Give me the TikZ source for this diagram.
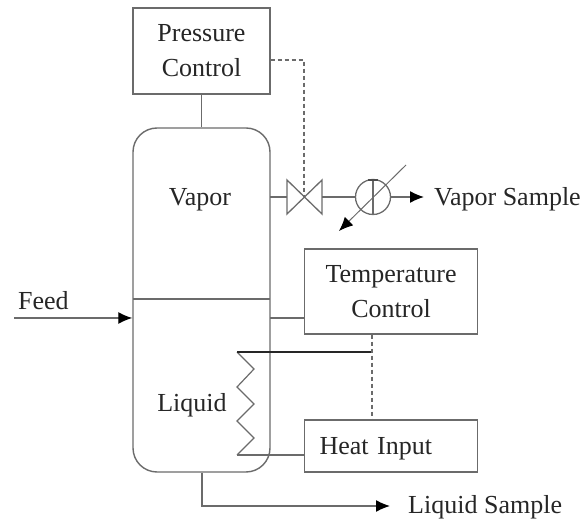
\documentclass[tikz,border=0pt]{standalone}
\usepackage{fontspec}
\setmainfont{Liberation Serif}
\usetikzlibrary{arrows.meta}
\definecolor{ln}{gray}{0.42}
\tikzset{
  x=1pt,y=-1pt,
  pipe/.style={draw=ln,line width=1.3pt},
  boxn/.style={draw=ln,line width=1.4pt,fill=white,minimum width=#1,inner sep=0pt,align=center,font=\fontsize{26}{35}\selectfont,text=black!85},
  lab/.style={inner sep=0pt,font=\fontsize{26}{30}\selectfont,text=black!85},
  sig/.style={draw=ln,line width=1.1pt,dashed,dash pattern=on 4pt off 3pt},
  arr/.style={draw=ln,line width=1.3pt,-{Latex[black,length=14pt,width=12pt]}}
}
\begin{document}
\begin{tikzpicture}
\useasboundingbox (0,0) rectangle (584,526);
% vessel
\node[draw=ln,line width=1.4pt,rounded corners=24pt,minimum width=137pt,minimum height=344pt,inner sep=0pt] (vessel) at (201.5,300) {};
\coordinate (divL) at (133,299);
\coordinate (divR) at (270,299);
\draw[ln,line width=1.4pt] (divL) -- (divR);
% boxes
\node[boxn=137pt,minimum height=86pt] (pc) at (201.5,51) {Pressure\\Control};
\node[boxn=173pt,minimum height=85pt] (tc) at (391,291.5) {Temperature\\Control};
\node[boxn=173pt,minimum height=52pt,text width=143pt,align=left,text height=24pt,text depth=6pt] (hi) at (391,446) {Heat Input};
% labels
\node[lab] (vapor) at (200,200) {Vapor};
\node[lab] (liquid) at (192,405) {Liquid};
\node[lab,anchor=west] (feedl) at (18,301) {Feed};
\node[lab,anchor=west] (vs) at (434,199) {Vapor Sample};
\node[lab,anchor=west] (ls) at (408,507) {Liquid Sample};
% pressure link
\draw[pipe] (pc.south) -- (pc.south |- vessel.north);
% valve
\coordinate (v) at (304,197);
\coordinate (vL) at (287,197);
\coordinate (vR) at (322,197);
\draw[ln,line width=1.3pt] (287,180) -- (322,214) -- (322,180) -- (287,214) -- cycle;
\draw[sig] (pc.east |- 0,60) -- (304,60) -- (v);
\draw[pipe] (270,197) -- (vL);
% exchanger
\node[circle,draw=ln,line width=1.3pt,minimum size=35pt,inner sep=0pt] (hx) at (373,197) {};
\draw[ln,line width=1.3pt] (hx.north) -- (hx.south);
\draw[black!70,line width=1.6pt] (368,180) -- (378,180);
\draw[pipe] (vR) -- (hx.west);
\draw[arr] (hx.east) -- (424,197);
\coordinate (hxA) at (406,165);
\coordinate (hxB) at (339,231);
\draw[ln,line width=1pt,-{Latex[black,length=14pt,width=12pt]}] (hxA) -- (hxB);
% feed
\coordinate (feedS) at (14,318);
\draw[arr] (feedS) -- (vessel.west |- feedS);
% temperature link
\draw[pipe] (270,318) -- (tc.west |- 0,318);
% coil
\coordinate (c0) at (237,352);
\coordinate (c6) at (237,455);
\draw[ln,line width=1.2pt] (c0) -- (254,369) -- (237,387) -- (254,404) -- (237,421) -- (254,438) -- (c6);
\draw[black!85,line width=1.4pt] (c0) -- (372,352);
\draw[pipe] (c6) -- (hi.west |- c6);
\draw[sig] (tc.south -| 372,0) -- (hi.north -| 372,0);
% liquid outlet
\coordinate (lsc) at (202,506);
\draw[arr] (vessel.south -| lsc) -- (lsc) -- (390,506);
\end{tikzpicture}
\end{document}
